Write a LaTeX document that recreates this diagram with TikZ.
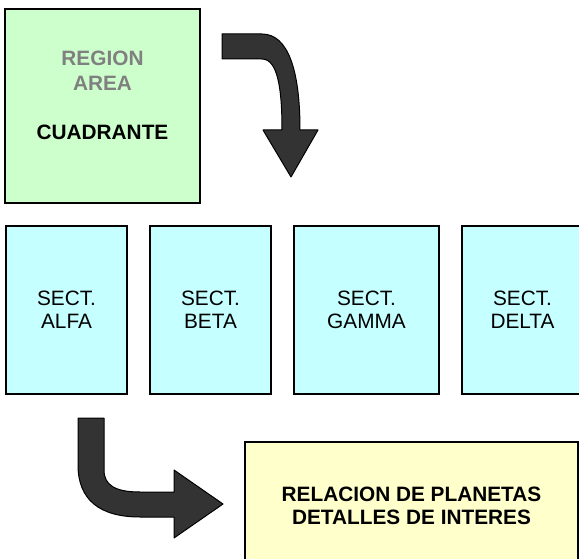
\documentclass[tikz,border=0pt]{standalone}
\usepackage{fontspec}
\setmainfont{Liberation Sans}
\usepackage{tikz}
\usetikzlibrary{positioning}
\definecolor{quadfill}{HTML}{CCFFCC}
\definecolor{sectfill}{HTML}{C6FFFF}
\definecolor{planfill}{HTML}{FFFFCC}
\definecolor{dimtext}{HTML}{808080}
\definecolor{arrowfill}{HTML}{333333}

\begin{document}
\begin{tikzpicture}[x=1pt,y=-1pt,
  bx/.style={draw=black,line width=1.5pt,inner sep=0pt,align=center,font=\fontsize{20.8}{23}\selectfont},
  sec/.style={bx,fill=sectfill,minimum width=121pt,minimum height=168pt},
  blk/.style={fill=arrowfill,draw=black,line width=1pt,line join=round},
  node distance=21.5pt]
\useasboundingbox (0,0) rectangle (579,559);
\clip (0,0) rectangle (579,559);
\node[bx,fill=quadfill,minimum width=195pt,minimum height=194pt,font=\bfseries\fontsize{20.8}{24.5}\selectfont] (quad) at (102.5,106)
  {\textcolor{dimtext}{REGION}\\\textcolor{dimtext}{AREA}\\\strut\\CUADRANTE\\[-10pt]\strut};
\node[sec] (alfa) at (66.5,310) {SECT.\\ALFA};
\node[sec,right=of alfa] (beta) {SECT.\\BETA};
\node[sec,right=of beta,minimum width=145pt] (gamma) {SECT.\\GAMMA};
\node[sec,right=of gamma] (delta) {SECT.\\DELTA};
\node[bx,fill=planfill,minimum width=333pt,minimum height=128pt,font=\bfseries\fontsize{20.8}{23}\selectfont] (plan) at (411.5,506)
  {RELACION DE PLANETAS\\DETALLES DE INTERES};
% bent arrows
\draw[blk] (222,34) -- (262,34) .. controls (288,34) and (300,70) .. (300,130) -- (318,130) -- (291,177) -- (263,130)
  -- (282,130) .. controls (282,90) and (278,59) .. (262,59) -- (222,59) -- cycle;
\draw[blk] (78,418) -- (104,418) -- (104,470) .. controls (104,485) and (115,492) .. (140,492) -- (174,492) -- (174,470)
  -- (223,504) -- (174,538) -- (174,517) -- (140,517) .. controls (100,517) and (78,500) .. (78,465) -- cycle;
\end{tikzpicture}
\end{document}
